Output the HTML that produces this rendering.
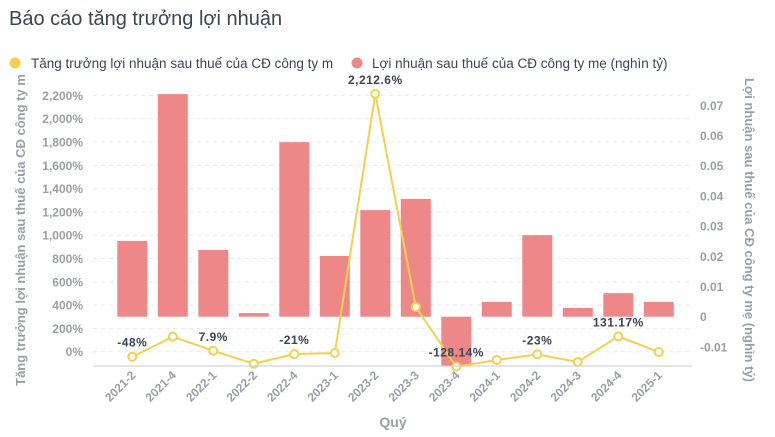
<!DOCTYPE html>
<html><head><meta charset="utf-8">
<style>
body{margin:0;background:#fff;font-family:"Liberation Sans","Noto Sans CJK SC",sans-serif;}
#wrap{position:relative;width:775px;height:437px;overflow:hidden;}
</style></head>
<body>
<div id="wrap">
<svg id="chart" width="775" height="437" xmlns="http://www.w3.org/2000/svg">
<text x="9" y="25" font-size="20" fill="#3b4556">Báo cáo tăng trưởng lợi nhuận</text>
<g>
<g><circle cx="15" cy="63" r="5.5" fill="#f5d04f"/><text x="31" y="68" font-size="13.5" fill="#3b4556">Tăng trưởng lợi nhuận sau thuế của CĐ công ty m</text></g>
<g><circle cx="357" cy="63" r="5.5" fill="#ee8888"/><text x="372" y="68" font-size="13.5" fill="#3b4556">Lợi nhuận sau thuế của CĐ công ty mẹ (nghìn tỷ)</text></g>
</g>
<g id="grid"></g><g id="bars"></g><g id="line"></g><g id="axes"></g>
<text x="0" y="0" transform="translate(25,230) rotate(-90)" text-anchor="middle" font-size="13" font-weight="bold" fill="#9a9ea6">Tăng trưởng lợi nhuận sau thuế của CĐ công ty m</text>
<text x="0" y="0" transform="translate(745,230) rotate(90)" text-anchor="middle" font-size="13" font-weight="bold" fill="#9a9ea6">Lợi nhuận sau thuế của CĐ công ty mẹ (nghìn tỷ)</text>
<text x="393" y="427" text-anchor="middle" font-size="14" font-weight="bold" fill="#9a9ea6">Quý</text>
</svg>
</div>
<script>
const categories=["2021-2","2021-4","2022-1","2022-2","2022-4","2023-1","2023-2","2023-3","2023-4","2024-1","2024-2","2024-3","2024-4","2025-1"];
const profitValues=[0.0251,0.0737,0.0221,0.0012,0.0578,0.0201,0.0353,0.039,-0.0163,0.0049,0.027,0.0029,0.0078,0.0049];
const growthValues=[-43,129,7.9,-103,-21,-11,2212.6,384,-128.14,-71,-23,-88,131.17,-3];
const growthLabels=["-48%",null,"7.9%",null,"-21%",null,"2,212.6%",null,"-128.14%",null,"-23%",null,"131.17%",null];
const leftTicks=[0,200,400,600,800,1000,1200,1400,1600,1800,2000,2200];
const rightTicks=[-0.01,0,0.01,0.02,0.03,0.04,0.05,0.06,0.07];
const NS="http://www.w3.org/2000/svg";
const yL=v=>351.7-v*0.1165;
const yR=v=>316.7-v*3020;
const xC=i=>132.3+i*40.5;
function mk(tag,attrs,parent,text){const e=document.createElementNS(NS,tag);for(const k in attrs)e.setAttribute(k,attrs[k]);if(text!=null)e.textContent=text;document.getElementById(parent).appendChild(e);return e;}
leftTicks.forEach(t=>{
 const g=mk("line",{x1:93,x2:692,y1:yL(t),y2:yL(t),stroke:"#e8e8ea","stroke-dasharray":"4,4"},"grid");
 
 
 const l=mk("text",{x:83,y:yL(t)+4.5,"text-anchor":"end","font-size":"12","font-weight":"bold",fill:"#9a9ea6"},"axes",t.toLocaleString("en-US")+"%");
 
 
});
rightTicks.forEach(t=>{
 const l=mk("text",{x:700,y:yR(t)+4.5,"font-size":"12","font-weight":"bold",fill:"#9a9ea6"},"axes",t===0?"0":t.toFixed(2));
 
 
});
const ax=mk("line",{x1:93,x2:692,y1:366,y2:366,stroke:"#c8cacf"},"axes");


categories.forEach((c,i)=>{
 const v=profitValues[i];const y0=yR(0),y1=yR(v);
 const b=mk("rect",{x:xC(i)-15,y:Math.min(y0,y1),width:30,height:Math.abs(y1-y0),fill:"#ee8888"},"bars");
 
 
 const t=mk("text",{x:0,y:0,transform:`translate(${xC(i)+4},${376}) rotate(-45)`,"text-anchor":"end","font-size":"12","font-weight":"bold",fill:"#9a9ea6"},"axes",c);
 
 
});
const pts=growthValues.map((v,i)=>xC(i)+","+yL(v)).join(" ");
const pl=mk("polyline",{points:pts,fill:"none",stroke:"#f5d04f","stroke-width":"2"},"line");


growthValues.forEach((v,i)=>{
 const p=mk("circle",{cx:xC(i),cy:yL(v),r:4,fill:"#fff",stroke:"#f5d04f","stroke-width":"2"},"line");
 
 
 if(growthLabels[i]){
  const l=mk("text",{x:xC(i),y:yL(v)-10,"text-anchor":"middle","font-size":"12","font-weight":"bold",fill:"#3b4556","letter-spacing":"0.5"},"line",growthLabels[i]);
  
  
 }
});
</script>
</body></html>
